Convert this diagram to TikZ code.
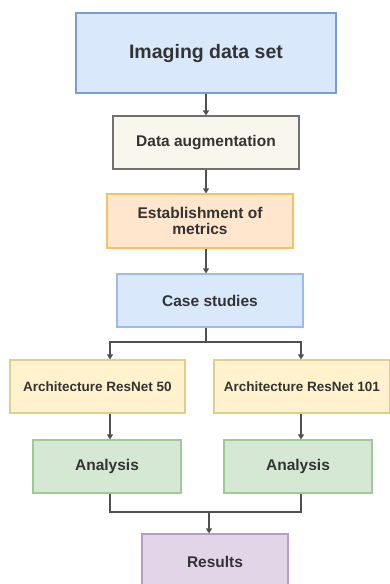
\documentclass[tikz,border=0pt]{standalone}
\usepackage{fontspec}
\setmainfont{Liberation Sans}
\usetikzlibrary{arrows.meta}
\definecolor{txt}{HTML}{333333}
\definecolor{ln}{HTML}{505050}
\definecolor{blueF}{HTML}{DAE8FC}
\definecolor{blueD}{HTML}{7C9DD0}
\definecolor{blueD2}{HTML}{9DBBE8}
\definecolor{creamF}{HTML}{F9F7ED}
\definecolor{creamD}{HTML}{707070}
\definecolor{orF}{HTML}{FFE6CC}
\definecolor{orD}{HTML}{F2C464}
\definecolor{yeF}{HTML}{FFF2CC}
\definecolor{yeD}{HTML}{E3CD8A}
\definecolor{grF}{HTML}{D5E8D4}
\definecolor{grD}{HTML}{9CCB94}
\definecolor{puF}{HTML}{E1D5E7}
\definecolor{puD}{HTML}{B89BCC}
\begin{document}
\begin{tikzpicture}[x=1pt,y=-1pt,
  box/.style={draw, line width=1.2pt, text=txt, font=\bfseries\fontsize{15.5}{16.5}\selectfont, align=center, inner sep=0pt},
  arr/.style={draw=ln, line width=1.3pt, -{Triangle[length=5pt,width=6pt]}},
  lnk/.style={draw=ln, line width=1.3pt}]
\useasboundingbox (0,0) rectangle (390,584);
\clip (0,0) rectangle (390,584);
\node[box, fill=blueF, draw=blueD, minimum width=260pt, minimum height=80pt, font=\bfseries\fontsize{19.5}{21}\selectfont] (b1) at (206,53) {Imaging data set};
\node[box, fill=creamF, draw=creamD, minimum width=186pt, minimum height=53pt] (b2) at (206,142.5) {Data augmentation};
\node[box, fill=orF, draw=orD, minimum width=186pt, minimum height=54pt] (b3) at (200,221) {Establishment of\\metrics};
\node[box, fill=blueF, draw=blueD2, minimum width=186pt, minimum height=53pt] (b4) at (210,300.5) {Case studies};
\node[box, fill=yeF, draw=yeD, minimum width=175pt, minimum height=53pt, font=\bfseries\fontsize{13.5}{15}\selectfont] (b5) at (97.5,386.5) {Architecture ResNet 50};
\node[box, fill=yeF, draw=yeD, minimum width=176pt, minimum height=53pt, font=\bfseries\fontsize{13.5}{15}\selectfont] (b6) at (302,386.5) {Architecture ResNet 101};
\node[box, fill=grF, draw=grD, minimum width=148pt, minimum height=53pt] (b7) at (107,466.5) {Analysis};
\node[box, fill=grF, draw=grD, minimum width=148pt, minimum height=53pt] (b8) at (298,466.5) {Analysis};
\node[box, fill=puF, draw=puD, minimum width=146pt, minimum height=56pt] (b9) at (215,562) {Results};
\coordinate (sp) at (206,0);
\coordinate (L) at (110,0);
\coordinate (R) at (301,0);
\coordinate (jn1) at (206,342);
\coordinate (jn2) at (209,512);
\draw[arr] (b1.south) -- (b2.north);
\draw[arr] (b2.south) -- (b2.south |- b3.north);
\draw[arr] (b3.south -| sp) -- (b4.north -| sp);
\draw[lnk] (b4.south -| jn1) -- (jn1);
\draw[arr] (jn1) -| (b5.north -| L);
\draw[arr] (jn1) -| (b6.north -| R);
\draw[arr] (b5.south -| L) -- (b7.north -| L);
\draw[arr] (b6.south -| R) -- (b8.north -| R);
\draw[lnk] (b7.south -| L) |- (jn2);
\draw[lnk] (b8.south -| R) |- (jn2);
\draw[arr] (jn2) -- (b9.north -| jn2);
\end{tikzpicture}
\end{document}
